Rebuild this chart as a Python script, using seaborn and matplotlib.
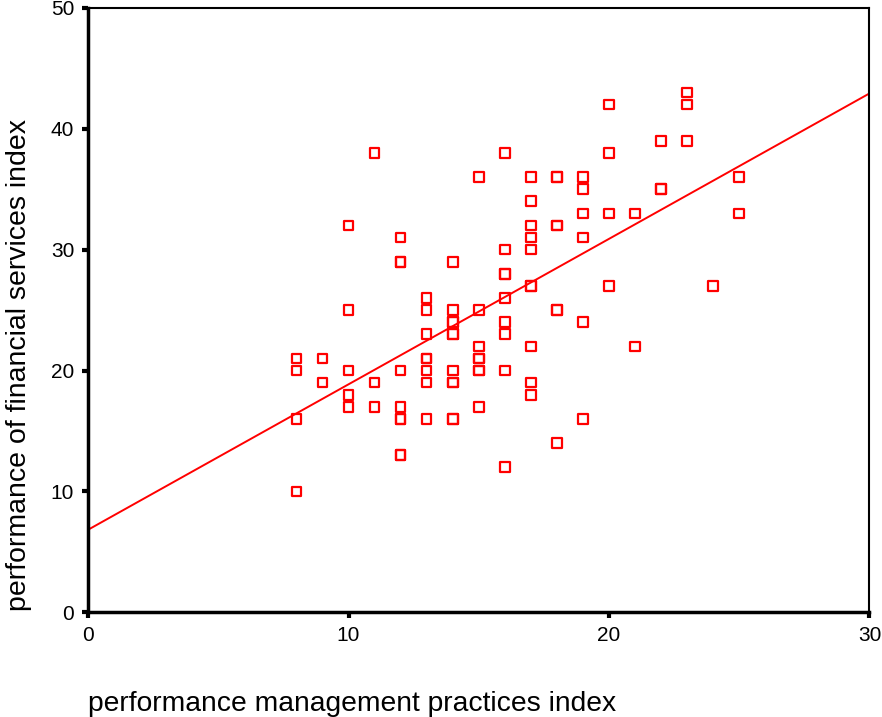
import numpy as np
import matplotlib
matplotlib.use("Agg")
import matplotlib.pyplot as plt
import seaborn as sns

# performance management practices index (x) and financial services index (y)
# squares that look heavier in the picture are taken as two overlapping cases
mgmt_index = [8, 8, 8, 8,
              9, 9,
              10, 10, 10, 10, 10,
              11, 11, 11,
              12, 12, 12, 12, 12, 12, 12, 12, 12,
              13, 13, 13, 13, 13, 13, 13, 13,
              14, 14, 14, 14, 14, 14, 14, 14, 14, 14, 14,
              15, 15, 15, 15, 15, 15, 15, 15,
              16, 16, 16, 16, 16, 16, 16, 16, 16,
              17, 17, 17, 17, 17, 17, 17, 17, 17, 17,
              18, 18, 18, 18, 18, 18, 18,
              19, 19, 19, 19, 19, 19,
              20, 20, 20, 20,
              21, 21,
              22, 22, 22,
              23, 23, 23,
              24,
              25, 25]
fin_index = [21, 20, 16, 10,
             21, 19,
             32, 25, 20, 18, 17,
             38, 19, 17,
             31, 29, 29, 20, 17, 16, 16, 13, 13,
             26, 25, 23, 21, 21, 20, 19, 16,
             29, 25, 24, 24, 23, 23, 20, 19, 19, 16, 16,
             36, 25, 22, 21, 21, 20, 20, 17,
             38, 30, 28, 28, 26, 24, 23, 20, 12,
             36, 34, 32, 31, 30, 27, 27, 22, 19, 18,
             36, 36, 32, 32, 25, 25, 14,
             36, 35, 33, 31, 24, 16,
             42, 38, 33, 27,
             33, 22,
             39, 35, 35,
             43, 42, 39,
             27,
             36, 33]

sns.set_style("white")
plt.rcParams['font.family'] = ['Liberation Sans', 'DejaVu Sans']
plt.rcParams['text.color'] = 'black'
plt.rcParams['axes.labelcolor'] = 'black'
plt.rcParams['xtick.color'] = 'black'
plt.rcParams['ytick.color'] = 'black'

fig = plt.figure(figsize=(8.82, 7.17), dpi=100)
ax = fig.add_axes([0.0998, 0.146, 0.886, 0.843])
ax.set_xlim(0, 30)
ax.set_ylim(0, 50)

sns.regplot(x=mgmt_index, y=fin_index, ax=ax, ci=None, truncate=False,
            marker='s', color='red',
            scatter_kws={'s': 48, 'facecolors': 'none', 'edgecolors': 'red',
                         'linewidths': 1.6, 'alpha': 1},
            line_kws={'linewidth': 1.4, 'color': 'red'})

ax.set_xlim(0, 30)
ax.set_ylim(0, 50)
ax.set_xticks([0, 10, 20, 30])
ax.set_yticks([0, 10, 20, 30, 40, 50])
for side in ['left', 'right', 'top', 'bottom']:
    ax.spines[side].set_color('black')
    ax.spines[side].set_linewidth(1.5)
ax.spines['left'].set_linewidth(2.5)
ax.spines['bottom'].set_linewidth(2.5)
ax.tick_params(direction='out', length=4, width=3, color='black', labelcolor='black',
               labelsize=15, pad=6, left=True, bottom=True)

ax.set_xlabel('performance management practices index', fontsize=20.3, color='black')
ax.set_ylabel('performance of financial services index', fontsize=20.5, color='black')
ax.xaxis.label.set_horizontalalignment('left')
ax.xaxis.set_label_coords(0.0, -0.131)
ax.yaxis.set_label_coords(-0.072, 0.41)

fig.savefig('out.png', dpi=100)
